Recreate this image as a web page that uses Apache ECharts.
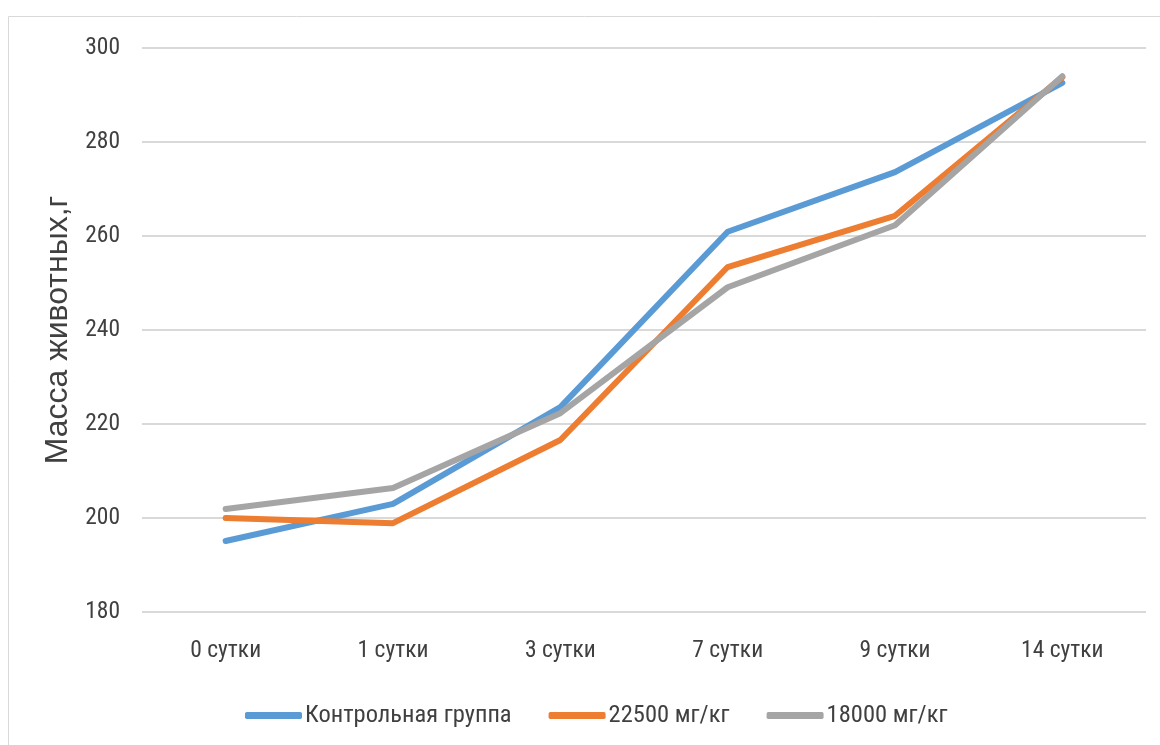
<!DOCTYPE html>
<html><head><meta charset="utf-8">
<script src="https://cdn.jsdelivr.net/npm/echarts@6/dist/echarts.min.js"></script>
<style>html,body{margin:0;padding:0;background:#fff}#c{width:1160px;height:745px}</style>
</head><body><div id="c"></div>
<script>
const categories = ['0 сутки','1 сутки','3 сутки','7 сутки','9 сутки','14 сутки'];
const seriesNames = ['Контрольная группа','22500 мг/кг','18000 мг/кг'];
const control = [195.1, 203.0, 223.6, 260.9, 273.6, 292.6];
const dose22500 = [200.0, 198.9, 216.6, 253.4, 264.3, 293.8];
const dose18000 = [201.9, 206.4, 222.3, 249.1, 262.3, 294.0];
const yTicks = {min:180, max:300, interval:20};
const colors = ['#5B9BD5','#ED7D31','#A5A5A5'];
const font = "'Roboto Condensed','Open Sans',sans-serif";
const chart = echarts.init(document.getElementById('c'));
const data = [control, dose22500, dose18000];
chart.setOption({
  animation:false,
  color:colors,
  graphic:[{type:'rect',shape:{x:8.5,y:16.5,width:1160,height:740},style:{fill:null,stroke:'#d9d9d9',lineWidth:1}}],
  grid:{left:142,right:14,top:48,bottom:133},
  legend:{top:698,left:240,itemWidth:57,itemHeight:7,itemGap:37,icon:'roundRect',
    textStyle:{fontFamily:font,fontSize:24.5,color:'#404040',padding:[4,0,0,-2]},data:seriesNames},
  xAxis:{type:'category',data:categories,boundaryGap:true,
    axisLine:{show:false},axisTick:{show:false},
    axisLabel:{fontFamily:font,fontSize:23.5,color:'#404040',margin:27}},
  yAxis:{type:'value',min:yTicks.min,max:yTicks.max,interval:yTicks.interval,
    name:'Масса животных,г',nameLocation:'middle',nameGap:68,
    nameTextStyle:{fontFamily:"'Liberation Sans',Arial,sans-serif",fontSize:32,color:'#404040'},
    axisLabel:{fontFamily:font,fontSize:23.5,color:'#404040',margin:22},
    splitLine:{lineStyle:{color:'#d9d9d9',width:2}},axisLine:{show:false},axisTick:{show:false}},
  series:seriesNames.map((n,i)=>({name:n,type:'line',data:data[i],symbol:'none',
    lineStyle:{width:6,cap:'round',join:'round'}}))
});
</script></body></html>
